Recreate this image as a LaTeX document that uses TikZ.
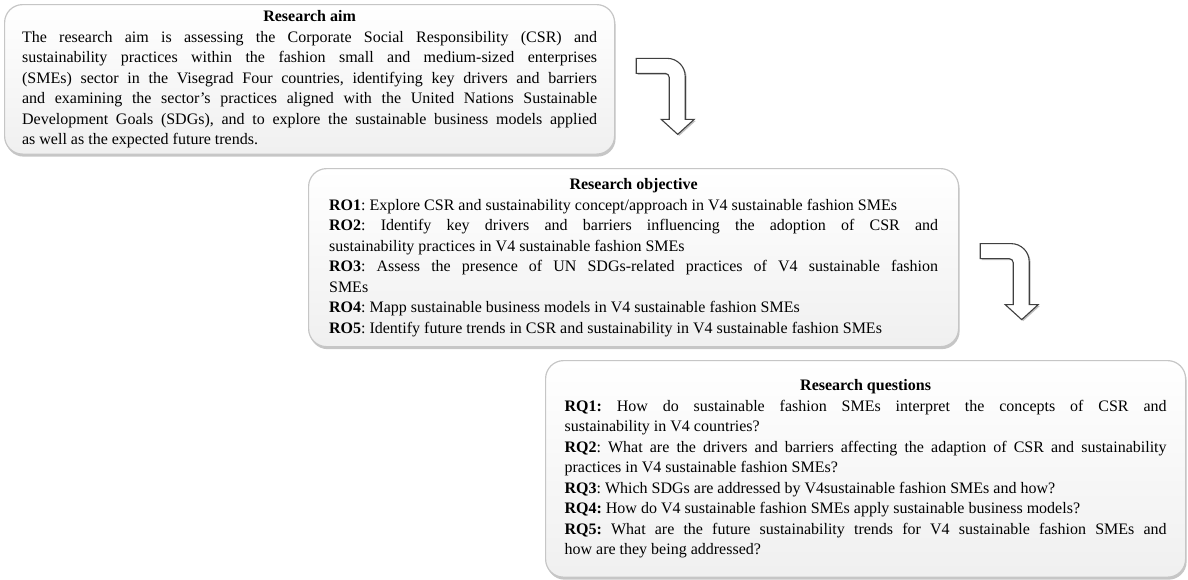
\documentclass[tikz,border=0pt]{standalone}
\usepackage{fontspec}
\setmainfont{Liberation Serif}
\usetikzlibrary{shadows}
\newcommand{\panelfont}{\fontsize{16}{20.5}\selectfont\frenchspacing
  \tolerance=9999 \hbadness=10000 \hyphenpenalty=10000 \exhyphenpenalty=10000\relax}
\newcommand{\turnarrow}[1]{%
  \draw[turn] (#1) -- ++(31,0) arc[start angle=90,end angle=0,radius=18pt]
    -- ++(0,-43) -- ++(9,0) -- ++(-16.5,-15) -- ++(-16.5,15) -- ++(8,0)
    -- ++(0,42) arc[start angle=0,end angle=90,radius=4pt] -- ++(-29,0) -- cycle;}
\begin{document}
\begin{tikzpicture}[x=1pt,y=1pt,
  panel/.style={draw=gray!45,line width=1.2pt,rounded corners=18pt,
    top color=white,bottom color=gray!12,
    drop shadow={shadow xshift=1pt,shadow yshift=-2.5pt,opacity=.45},
    anchor=north west,text width=#1,align=justify,font=\panelfont},
  turn/.style={draw=black!75,line width=1.1pt,fill=white,
    drop shadow={shadow xshift=1.5pt,shadow yshift=-1.5pt,opacity=.5}}]
\useasboundingbox (0,0) rectangle (1188,-579);
\node[panel=575,inner xsep=17.5pt,inner ysep=6pt] (aim) at (4,-4) {%
  {\centering\textbf{Research aim}\par}
  The research aim is assessing the Corporate Social Responsibility (CSR) and\linebreak
  sustainability practices within the fashion small and medium-sized enterprises\linebreak
  (SMEs) sector in the Visegrad Four countries, identifying key drivers and barriers\linebreak
  and examining the sector’s practices aligned with the United Nations Sustainable\linebreak
  Development Goals (SDGs), and to explore the sustainable business models applied\linebreak
  as well as the expected future trends.};
\node[panel=609,inner xsep=20.5pt,inner ysep=10pt] (objective) at (308,-168) {%
  {\centering\textbf{Research objective}\par}
  \textbf{RO1}: Explore CSR and sustainability concept/approach in V4 sustainable fashion SMEs\par
  \textbf{RO2}: Identify key drivers and barriers influencing the adoption of CSR and\linebreak
  sustainability practices in V4 sustainable fashion SMEs\par
  \textbf{RO3}: Assess the presence of UN SDGs-related practices of V4 sustainable fashion\linebreak
  SMEs\par
  \textbf{RO4}: Mapp sustainable business models in V4 sustainable fashion SMEs\par
  \textbf{RO5}: Identify future trends in CSR and sustainability in V4 sustainable fashion SMEs};
\node[panel=602,inner xsep=19pt,inner ysep=19pt] (questions) at (545,-360) {%
  {\centering\textbf{Research questions}\par}
  \textbf{RQ1:} How do sustainable fashion SMEs interpret the concepts of CSR and\linebreak
  sustainability in V4 countries?\par
  \textbf{RQ2}: What are the drivers and barriers affecting the adaption of CSR and sustainability\linebreak
  practices in V4 sustainable fashion SMEs?\par
  \textbf{RQ3}: Which SDGs are addressed by V4sustainable fashion SMEs and how?\par
  \textbf{RQ4:} How do V4 sustainable fashion SMEs apply sustainable business models?\par
  \textbf{RQ5:} What are the future sustainability trends for V4 sustainable fashion SMEs and\linebreak
  how are they being addressed?};
% bent arrows between the panels
\coordinate (bend1) at ([xshift=21pt,yshift=21pt]aim.east);
\coordinate (bend2) at ([xshift=21pt,yshift=14pt]objective.east);
\turnarrow{bend1}
\turnarrow{bend2}
\end{tikzpicture}
\end{document}
